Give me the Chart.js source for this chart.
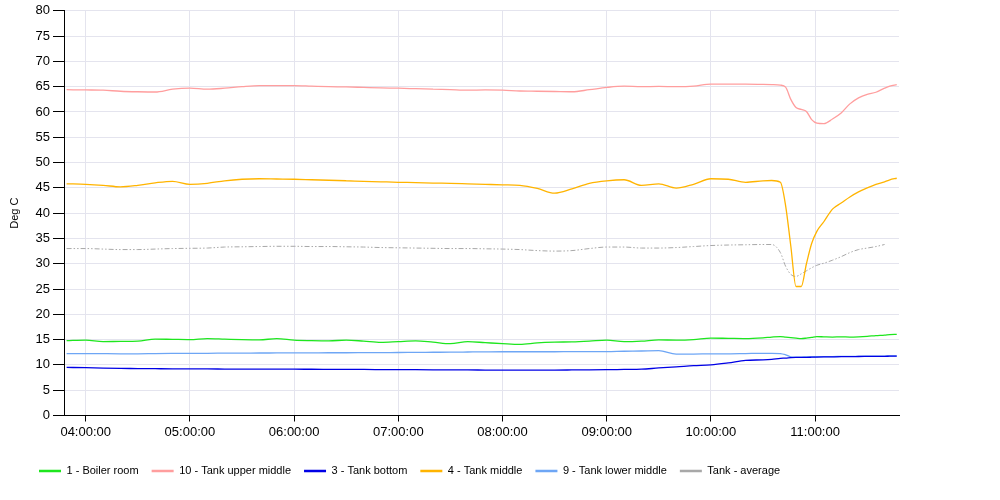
<!DOCTYPE html>
<html><head><meta charset="utf-8">
<script src="https://cdn.jsdelivr.net/npm/chart.js@4.4.0/dist/chart.umd.min.js"></script>
<style>html,body{margin:0;padding:0;background:#fff}</style>
</head><body>
<canvas id="c" width="1000" height="500"></canvas>
<script>
const times = ["03:49","04:00","04:10","04:20","04:30","04:40","04:50","05:00","05:10","05:20","05:30","05:40","05:50","06:00","06:10","06:20","06:30","06:40","06:50","07:00","07:10","07:20","07:30","07:40","07:50","08:00","08:10","08:20","08:30","08:40","08:50","09:00","09:10","09:20","09:30","09:40","09:50","10:00","10:10","10:20","10:30","10:35","10:40","10:43","10:46","10:49","10:52","10:55","10:58","11:01","11:05","11:10","11:15","11:20","11:25","11:30","11:35","11:40","11:43","11:47"];

const boilerRoom = [14.8,14.9,14.6,14.65,14.7,15.1,15.05,15.0,15.2,15.1,15.0,14.95,15.2,14.9,14.8,14.75,14.9,14.7,14.45,14.6,14.75,14.5,14.2,14.6,14.4,14.2,14.05,14.35,14.5,14.55,14.7,14.9,14.6,14.7,14.95,14.9,15.0,15.3,15.25,15.2,15.35,15.5,15.6,15.5,15.4,15.3,15.2,15.3,15.45,15.6,15.55,15.5,15.55,15.5,15.55,15.65,15.8,15.9,16.0,16.05];

const tankUpperMiddle = [64.4,64.35,64.3,64.1,64.0,63.95,64.5,64.7,64.5,64.7,65.0,65.2,65.2,65.2,65.1,65.0,64.95,64.85,64.75,64.7,64.6,64.5,64.4,64.3,64.35,64.3,64.15,64.1,64.05,64.0,64.4,64.85,65.1,65.0,65.05,65.0,65.1,65.5,65.5,65.5,65.45,65.4,65.3,64.9,62.5,60.9,60.5,60.1,58.5,57.8,57.7,58.6,59.8,61.6,62.8,63.5,63.9,64.7,65.1,65.4];

const tankBottom = [9.5,9.45,9.35,9.3,9.28,9.25,9.22,9.2,9.2,9.18,9.17,9.17,9.16,9.15,9.14,9.12,9.1,9.1,9.08,9.06,9.05,9.03,9.0,9.0,8.98,8.97,8.97,8.98,8.98,9.0,9.02,9.05,9.1,9.15,9.4,9.6,9.85,10.0,10.4,10.9,11.0,11.1,11.3,11.35,11.45,11.5,11.5,11.5,11.52,11.55,11.58,11.6,11.62,11.65,11.66,11.68,11.7,11.7,11.72,11.73];

const tankMiddle = [45.8,45.7,45.5,45.2,45.5,46.0,46.3,45.7,45.9,46.4,46.7,46.8,46.75,46.7,46.6,46.5,46.4,46.3,46.2,46.1,46.05,45.95,45.9,45.8,45.7,45.6,45.5,44.9,43.95,44.8,45.9,46.4,46.6,45.5,45.8,44.95,45.7,46.8,46.7,46.1,46.4,46.45,46.1,41.5,33.5,25.5,25.5,30.0,34.0,36.4,38.3,40.8,42.0,43.2,44.2,45.0,45.7,46.2,46.6,46.9];

const tankLowerMiddle = [12.25,12.25,12.22,12.2,12.2,12.25,12.28,12.3,12.3,12.32,12.33,12.35,12.36,12.37,12.38,12.4,12.4,12.42,12.44,12.45,12.48,12.5,12.52,12.55,12.58,12.6,12.6,12.6,12.6,12.62,12.62,12.63,12.7,12.75,12.82,12.15,12.15,12.2,12.2,12.25,12.3,12.3,12.25,12.0,11.6,11.55,11.55,11.6,11.6,11.62,11.65,11.65,11.68,11.7,11.7,11.72,11.75,11.75,11.78,11.8];

const tankAverage = [33.0,33.0,32.9,32.8,32.8,32.9,33.0,33.05,33.1,33.3,33.35,33.4,33.45,33.45,33.4,33.4,33.35,33.3,33.2,33.15,33.1,33.05,33.0,33.0,32.95,32.9,32.8,32.6,32.5,32.6,33.0,33.3,33.3,33.1,33.1,33.2,33.4,33.6,33.7,33.75,33.8,33.8,32.2,29.5,27.9,27.5,28.0,28.6,29.2,29.7,30.1,30.7,31.4,32.2,32.8,33.1,33.4,33.8,null,null];

const seriesNames = ["1 - Boiler room","10 - Tank upper middle","3 - Tank bottom","4 - Tank middle","9 - Tank lower middle","Tank - average"];
const tickLabels = ["04:00:00","05:00:00","06:00:00","07:00:00","08:00:00","09:00:00","10:00:00","11:00:00"];
const yTicks = [0,5,10,15,20,25,30,35,40,45,50,55,60,65,70,75,80];

const toMin = s => { const p = s.split(':').map(Number); return p[0]*60 + p[1] + (p[2]||0)/60; };
const xs = times.map(toMin);
const pts = arr => arr.map((v,i) => ({x: xs[i], y: v}));
const tickMins = tickLabels.map(toMin);

const colors = ["#1ee61e","#ff9e9e","#0000e6","#ffb400","#6ea6f5","#a8a8a8"];
const values = [boilerRoom, tankUpperMiddle, tankBottom, tankMiddle, tankLowerMiddle, tankAverage];

const datasets = values.map((arr,i) => ({
  label: seriesNames[i],
  data: pts(arr),
  borderColor: colors[i],
  backgroundColor: colors[i],
  borderWidth: i === 5 ? 1 : 1.3,
  borderDash: i === 5 ? [5,2,1.5,2,1.5,2] : [],
  pointRadius: 0,
  fill: false,
  cubicInterpolationMode: 'monotone',
  spanGaps: false
}));

const legendShift = {
  id: 'legendShift',
  afterLayout(chart) { if (chart.legend) { chart.legend.left += 26; chart.legend.right += 26; } }
};

const gridColor = '#e4e4ee';
new Chart(document.getElementById('c'), {
  type: 'line',
  data: { datasets },
  plugins: [legendShift],
  options: {
    responsive: false,
    animation: false,
    devicePixelRatio: 1,
    layout: { padding: { left: 0, right: 101, top: 10, bottom: 13.5 } },
    plugins: {
      tooltip: { enabled: false },
      legend: {
        position: 'bottom',
        align: 'start',
        labels: {
          usePointStyle: true,
          pointStyle: 'line',
          pointStyleWidth: 22,
          padding: 13,
          color: '#000',
          font: { family: 'Liberation Sans', size: 11 },
          generateLabels(chart) {
            const items = Chart.defaults.plugins.legend.labels.generateLabels(chart);
            items.forEach(it => { it.lineWidth = 2.5; });
            return items;
          }
        }
      }
    },
    scales: {
      x: {
        type: 'linear',
        min: 227.5,
        max: 708.3,
        afterBuildTicks(s) { s.ticks = tickMins.map(v => ({ value: v })); },
        afterFit(s) { s.height = 37; },
        ticks: {
          autoSkip: false,
          maxRotation: 0,
          padding: 3,
          color: '#000',
          font: { family: 'Liberation Sans', size: 13 },
          callback(v) { const i = tickMins.indexOf(v); return i >= 0 ? tickLabels[i] : ''; }
        },
        grid: { color: gridColor, tickColor: '#000', tickLength: 6, lineWidth: 1 },
        border: { color: '#000', width: 1 }
      },
      y: {
        min: 0,
        max: 80,
        afterBuildTicks(s) { s.ticks = yTicks.map(v => ({ value: v })); },
        afterFit(s) { s.width = 64; },
        ticks: {
          padding: 3,
          color: '#000',
          font: { family: 'Liberation Sans', size: 13 }
        },
        title: {
          display: true,
          text: 'Deg C',
          color: '#000',
          font: { family: 'Liberation Sans', size: 11 },
          padding: { top: 8, bottom: 0 }
        },
        grid: { color: gridColor, tickColor: '#000', tickLength: 11, lineWidth: 1 },
        border: { color: '#000', width: 1 }
      }
    }
  }
});
</script>
</body></html>
